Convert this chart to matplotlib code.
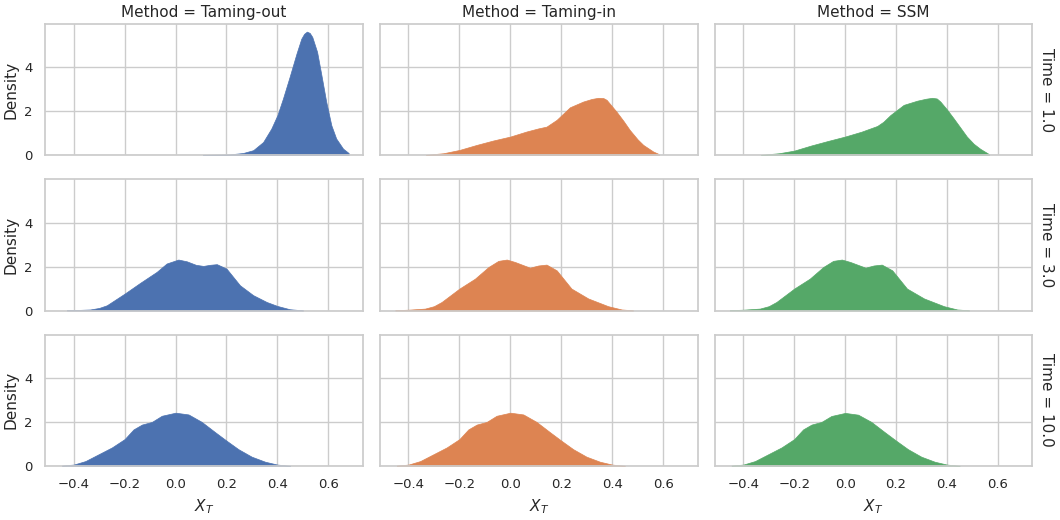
import numpy as np
import matplotlib
matplotlib.use("Agg")
import matplotlib.pyplot as plt
import seaborn as sns

methods = ["Taming-out", "Taming-in", "SSM"]
times = ["1.0", "3.0", "10.0"]
colors = ["#4C72B0", "#DD8452", "#55A868"]

# density curves (x, density)
out_t1_x = [0.108, 0.16, 0.213, 0.265, 0.305, 0.344, 0.376, 0.40, 0.422, 0.448, 0.475, 0.494, 0.505, 0.516,
            0.527, 0.537, 0.556, 0.573, 0.592, 0.612, 0.631, 0.658, 0.68]
out_t1_y = [0.02, 0.03, 0.04, 0.10, 0.23, 0.60, 1.21, 1.82, 2.58, 3.56, 4.62, 5.30, 5.52, 5.62,
            5.56, 5.38, 4.70, 3.64, 2.42, 1.36, 0.76, 0.30, 0.10]
in_t1_x = [-0.331, -0.263, -0.20, -0.132, -0.067, 0.0, 0.064, 0.11, 0.142, 0.182, 0.234, 0.286, 0.32, 0.345,
           0.365, 0.378, 0.417, 0.445, 0.469, 0.50, 0.522, 0.561, 0.584]
in_t1_y = [0.02, 0.09, 0.24, 0.47, 0.67, 0.85, 1.08, 1.22, 1.30, 1.61, 2.18, 2.44, 2.56, 2.61,
           2.60, 2.52, 1.98, 1.55, 1.15, 0.72, 0.47, 0.17, 0.05]
ssm_t1_x = [-0.33, -0.26, -0.20, -0.134, -0.067, 0.0, 0.064, 0.126, 0.15, 0.178, 0.23, 0.283, 0.318, 0.342,
            0.36, 0.374, 0.40, 0.426, 0.478, 0.505, 0.531, 0.565]
ssm_t1_y = [0.02, 0.09, 0.21, 0.44, 0.65, 0.85, 1.07, 1.33, 1.52, 1.83, 2.29, 2.48, 2.57, 2.61,
            2.58, 2.44, 2.08, 1.68, 0.85, 0.52, 0.29, 0.05]

out_t3_x = [-0.427, -0.38, -0.335, -0.30, -0.27, -0.20, -0.139, -0.074, -0.035, 0.011, 0.044, 0.08, 0.109,
            0.135, 0.162, 0.20, 0.253, 0.305, 0.358, 0.40, 0.449, 0.48, 0.501]
out_t3_y = [0.02, 0.03, 0.05, 0.12, 0.24, 0.77, 1.26, 1.76, 2.14, 2.32, 2.24, 2.08, 2.03,
            2.08, 2.11, 1.91, 1.15, 0.70, 0.39, 0.21, 0.06, 0.03, 0.01]
in_t3_x = [-0.452, -0.40, -0.335, -0.30, -0.27, -0.20, -0.139, -0.086, -0.047, -0.014, 0.018, 0.077, 0.11,
           0.142, 0.182, 0.24, 0.306, 0.384, 0.437, 0.46, 0.482]
in_t3_y = [0.02, 0.04, 0.09, 0.20, 0.39, 1.0, 1.45, 1.98, 2.26, 2.32, 2.21, 1.95, 2.05,
           2.09, 1.83, 1.0, 0.55, 0.20, 0.05, 0.03, 0.01]
ssm_t3_x = [-0.453, -0.40, -0.335, -0.30, -0.27, -0.20, -0.139, -0.086, -0.047, -0.013, 0.02, 0.08, 0.112,
            0.144, 0.185, 0.243, 0.31, 0.388, 0.44, 0.465, 0.487]
ssm_t3_y = [0.02, 0.04, 0.09, 0.20, 0.39, 1.0, 1.45, 1.98, 2.26, 2.32, 2.21, 1.95, 2.05,
            2.09, 1.83, 1.0, 0.55, 0.20, 0.05, 0.03, 0.01]

t10_x = [-0.446, -0.40, -0.354, -0.302, -0.25, -0.20, -0.165, -0.132, -0.093, -0.054, 0.0, 0.051, 0.103,
         0.156, 0.20, 0.247, 0.299, 0.352, 0.40, 0.45]
out_t10_y = [0.02, 0.06, 0.22, 0.53, 0.84, 1.22, 1.66, 1.88, 2.00, 2.28, 2.42, 2.34, 2.00,
             1.53, 1.15, 0.76, 0.42, 0.19, 0.06, 0.01]
in_t10_y = [0.02, 0.06, 0.22, 0.53, 0.84, 1.22, 1.66, 1.88, 2.00, 2.28, 2.42, 2.34, 2.00,
            1.53, 1.15, 0.76, 0.42, 0.19, 0.06, 0.01]
ssm_t10_y = [0.02, 0.06, 0.22, 0.53, 0.84, 1.22, 1.66, 1.88, 2.00, 2.27, 2.41, 2.33, 2.00,
             1.53, 1.15, 0.76, 0.42, 0.19, 0.06, 0.01]

curves = [
    [(out_t1_x, out_t1_y), (in_t1_x, in_t1_y), (ssm_t1_x, ssm_t1_y)],
    [(out_t3_x, out_t3_y), (in_t3_x, in_t3_y), (ssm_t3_x, ssm_t3_y)],
    [(t10_x, out_t10_y), (t10_x, in_t10_y), (t10_x, ssm_t10_y)],
]

sns.set_theme(style="whitegrid")
plt.rcParams["font.family"] = ["DejaVu Sans"]

fig, axes = plt.subplots(3, 3, figsize=(10.6, 5.2), dpi=100, sharex=True, sharey=True)
fig.subplots_adjust(left=0.0425, right=0.974, bottom=0.104, top=0.954, wspace=0.0535, hspace=0.183)

for i in range(3):
    for j in range(3):
        ax = axes[i, j]
        x, y = curves[i][j]
        ax.fill_between(x, y, 0, color=colors[j], alpha=1, linewidth=0.5, edgecolor=colors[j])
        ax.set_xlim(-0.5125, 0.7357)
        ax.set_ylim(0, 5.97)
        ax.set_xticks([-0.4, -0.2, 0.0, 0.2, 0.4, 0.6])
        ax.set_yticks([0, 2, 4])
        ax.tick_params(labelsize=9.5, pad=3)
        if i == 0:
            ax.set_title("Method = " + methods[j], fontsize=11, pad=5)
        if j == 0:
            ax.set_ylabel("Density", fontsize=11)
        if i == 2:
            ax.set_xlabel("$X_T$", fontsize=11)
        if j == 2:
            ax.annotate("Time = " + times[i], xy=(1.02, 0.5), xycoords="axes fraction",
                        rotation=270, ha="left", va="center", fontsize=11)

plt.savefig("out.png", dpi=100)
